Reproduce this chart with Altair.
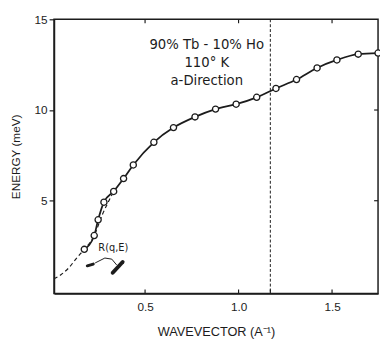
import altair as alt
import pandas as pd

# measured points (open circles, solid curve)
q_meas = [0.175, 0.228, 0.249, 0.280, 0.332, 0.385, 0.437, 0.547, 0.652, 0.767,
          0.877, 0.987, 1.097, 1.20, 1.31, 1.42, 1.526, 1.64, 1.746]
E_meas = [2.32, 3.08, 3.95, 4.92, 5.51, 6.22, 6.97, 8.22, 9.03, 9.62,
          10.05, 10.32, 10.70, 11.19, 11.68, 12.32, 12.76, 13.08, 13.14]

# dashed low-q curve
q_dash = [0.013, 0.05, 0.092, 0.134, 0.175, 0.228, 0.27, 0.30, 0.332]
E_dash = [0.70, 0.92, 1.30, 1.84, 2.32, 3.08, 4.2, 4.86, 5.51]

# resolution marks R(q,E)
q_res_small = [0.191, 0.223]
E_res_small = [1.41, 1.51]
q_res_big = [0.327, 0.380]
E_res_big = [1.03, 1.62]
q_bracket = [0.233, 0.285, 0.322, 0.348]
E_bracket = [1.57, 1.84, 1.78, 1.46]

zone_q = 1.17
x_ticks = [0.5, 1.0, 1.5]
y_ticks = [5, 10, 15]

label_lines = ["90% Tb - 10% Ho", "110° K", "a-Direction"]
label_E = [13.6, 12.6, 11.6]
label_q = 0.83

INK = "#1c1c1c"
FONT = "Liberation Sans"
TFONT = "DejaVu Sans"
W, H = 331, 280

xs = alt.Scale(domain=[0.013, 1.746], nice=False, zero=False)
ys = alt.Scale(domain=[-0.11, 15], nice=False, zero=False)

meas = pd.DataFrame({"q": q_meas, "E": E_meas})
dash = pd.DataFrame({"q": q_dash, "E": E_dash, "o": list(range(len(q_dash)))})

xax = alt.Axis(values=x_ticks, format=".1f", title="WAVEVECTOR (A⁻¹)", grid=False,
               ticks=False, domain=True, domainColor=INK, domainWidth=1.5,
               labelPadding=8, titlePadding=14, labelFontSize=12, titleFontSize=13,
               labelColor=INK, titleColor=INK, labelFont=FONT, titleFont=FONT,
               titleFontWeight="normal")
yax = alt.Axis(values=y_ticks, title="ENERGY (meV)", grid=False, tickSize=5,
               tickColor=INK, tickWidth=1.2, domain=True, domainColor=INK,
               domainWidth=1.5, labelPadding=2, titlePadding=12, labelFontSize=12,
               titleFontSize=12, labelColor=INK, titleColor=INK, labelFont=FONT,
               titleFont=FONT, titleFontWeight="normal")

base_line = alt.Chart(meas).mark_line(color=INK, strokeWidth=1.8, interpolate="monotone").encode(
    x=alt.X("q:Q", scale=xs, axis=xax),
    y=alt.Y("E:Q", scale=ys, axis=yax),
)
pts = alt.Chart(meas).mark_point(shape="circle", size=40, filled=True, fill="white",
                                 stroke=INK, strokeWidth=1.3, opacity=1).encode(
    x=alt.X("q:Q", scale=xs), y=alt.Y("E:Q", scale=ys))

dash_line = alt.Chart(dash).mark_line(color=INK, strokeWidth=1.2, strokeDash=[4, 3],
                                      interpolate="monotone").encode(
    x=alt.X("q:Q", scale=xs), y=alt.Y("E:Q", scale=ys), order="o:Q")

zone = alt.Chart(pd.DataFrame({"q": [zone_q]})).mark_rule(
    color=INK, strokeWidth=1, strokeDash=[3, 2]).encode(x=alt.X("q:Q", scale=xs))

top_ticks = alt.Chart(pd.DataFrame({"q": x_ticks})).mark_rule(color=INK, strokeWidth=1.2).encode(
    x=alt.X("q:Q", scale=xs), y=alt.value(0), y2=alt.value(4))
bot_ticks = alt.Chart(pd.DataFrame({"q": x_ticks + [zone_q]})).mark_rule(color=INK, strokeWidth=1.2).encode(
    x=alt.X("q:Q", scale=xs), y=alt.value(H), y2=alt.value(H - 4))
right_ticks = alt.Chart(pd.DataFrame({"E": [5, 10]})).mark_rule(color=INK, strokeWidth=1.2).encode(
    y=alt.Y("E:Q", scale=ys), x=alt.value(W), x2=alt.value(W - 4))

res_small = alt.Chart(pd.DataFrame({"q": q_res_small, "E": E_res_small})).mark_line(
    color=INK, strokeWidth=3, strokeCap="round").encode(x=alt.X("q:Q", scale=xs), y=alt.Y("E:Q", scale=ys))
res_big = alt.Chart(pd.DataFrame({"q": q_res_big, "E": E_res_big})).mark_line(
    color=INK, strokeWidth=4, strokeCap="round").encode(x=alt.X("q:Q", scale=xs), y=alt.Y("E:Q", scale=ys))
bracket = alt.Chart(pd.DataFrame({"q": q_bracket, "E": E_bracket, "o": [0, 1, 2, 3]})).mark_line(
    color=INK, strokeWidth=1).encode(x=alt.X("q:Q", scale=xs), y=alt.Y("E:Q", scale=ys), order="o:Q")

res_label = alt.Chart(pd.DataFrame({"q": [0.33], "E": [2.4], "t": ["R(q,E)"]})).mark_text(
    font=TFONT, fontSize=10, color=INK).encode(x=alt.X("q:Q", scale=xs), y=alt.Y("E:Q", scale=ys), text="t:N")

info = alt.Chart(pd.DataFrame({"q": [label_q] * 3, "E": label_E, "t": label_lines})).mark_text(
    font=TFONT, fontSize=13.5, color=INK).encode(x=alt.X("q:Q", scale=xs), y=alt.Y("E:Q", scale=ys), text="t:N")

chart = alt.layer(zone, dash_line, base_line, pts, top_ticks, bot_ticks, right_ticks,
                  res_small, res_big, bracket, res_label, info).properties(
    width=W, height=H,
    autosize=alt.AutoSizeParams(type="none"),
    padding={"left": 47, "top": 8, "right": 2, "bottom": 43},
    background="white",
).configure_view(stroke=INK, strokeWidth=1.5)

chart.save("out.html", embed_options={"renderer": "svg", "actions": False})
